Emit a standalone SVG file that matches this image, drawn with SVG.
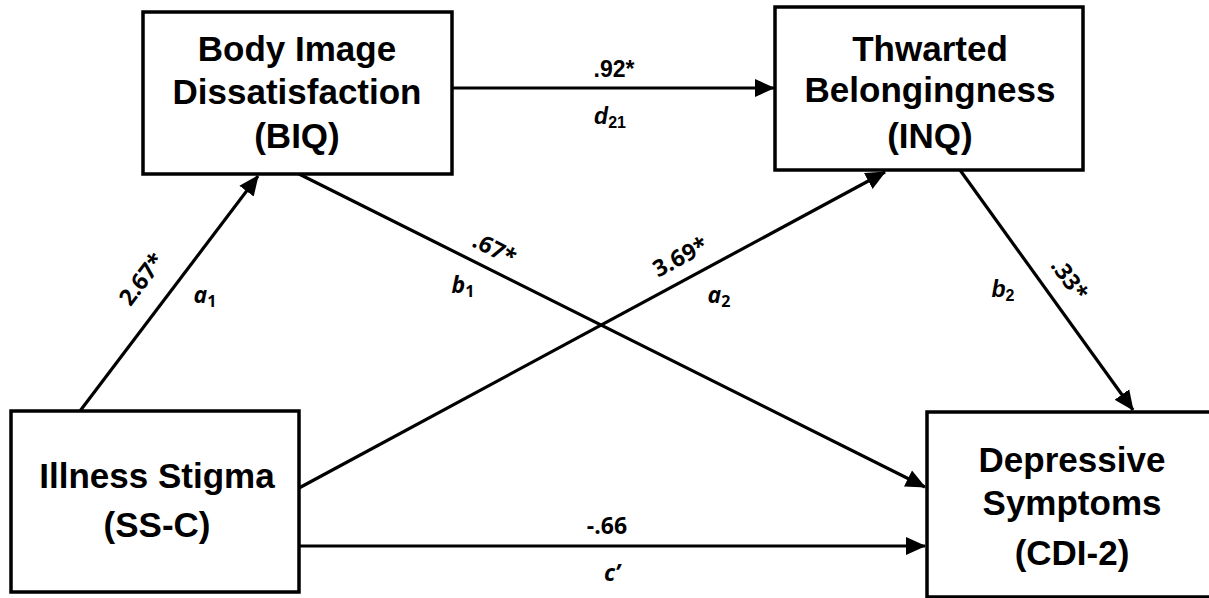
<svg xmlns="http://www.w3.org/2000/svg" width="1209" height="598" viewBox="0 0 1209 598">
<defs>
<style>
.box{fill:#fff;stroke:#000;stroke-width:3.5}
.nt{font-family:"Liberation Sans",Arial,sans-serif;font-weight:bold;font-size:35px;text-anchor:middle;fill:#000}
.lbl{font-family:"Open Sans","Liberation Sans",sans-serif;font-weight:bold;font-size:23px;text-anchor:middle;fill:#000}
.lbla{font-family:"Liberation Sans",Arial,sans-serif;font-weight:bold;font-size:23px;text-anchor:middle;fill:#000}
.it{font-style:italic}
.sub{font-size:16px;font-style:normal}
.edge{stroke:#000;stroke-width:3.2;fill:none;marker-end:url(#ah)}
</style>
<marker id="ah" markerUnits="userSpaceOnUse" markerWidth="20" markerHeight="20" viewBox="0 0 20 20" refX="19" refY="10" orient="auto">
<path d="M0,1 L20,10 L0,19 z" fill="#000"/>
</marker>
</defs>
<rect width="1209" height="598" fill="#fff"/>
<g id="connectors">
<line class="edge" x1="452" y1="88" x2="774" y2="88"/>
<line class="edge" x1="80" y1="411" x2="258" y2="176"/>
<line class="edge" x1="299" y1="174" x2="925" y2="487"/>
<line class="edge" x1="299" y1="488" x2="885" y2="172"/>
<line class="edge" x1="960" y1="170" x2="1133" y2="410"/>
<line class="edge" x1="299" y1="546" x2="925" y2="546"/>
</g>
<g id="labels">
<text class="lbla" x="614" y="77">.92*</text>
<text class="lbla it" x="610" y="124">d<tspan class="sub" dy="4">21</tspan></text>
<text class="lbl" transform="translate(148,284) rotate(-53)">2.67*</text>
<text class="lbl it" x="205" y="303">a<tspan class="sub" dy="4">1</tspan></text>
<text class="lbl" transform="translate(491,256) rotate(26.6)">.67*</text>
<text class="lbl it" x="463" y="293">b<tspan class="sub" dy="4">1</tspan></text>
<text class="lbl" transform="translate(684,264) rotate(-28.3)">3.69*</text>
<text class="lbl it" x="719" y="303">a<tspan class="sub" dy="4">2</tspan></text>
<text class="lbl" transform="translate(1063,284) rotate(54.3)">.33*</text>
<text class="lbla it" x="1003" y="297">b<tspan class="sub" dy="4">2</tspan></text>
<text class="lbl" x="607" y="534">-.66</text>
<text class="lbl it" x="612" y="581">c’</text>
</g>
<g id="biq">
<rect class="box" x="143" y="12" width="309" height="162"/>
<text class="nt" x="297" y="61">Body Image</text>
<text class="nt" x="297" y="104">Dissatisfaction</text>
<text class="nt" x="297" y="148">(BIQ)</text>
</g>
<g id="inq">
<rect class="box" x="775" y="7" width="308" height="163"/>
<text class="nt" x="930" y="61">Thwarted</text>
<text class="nt" x="930" y="102">Belongingness</text>
<text class="nt" x="930" y="148">(INQ)</text>
</g>
<g id="ssc">
<rect class="box" x="11" y="411" width="288" height="181"/>
<text class="nt" x="157" y="488">Illness Stigma</text>
<text class="nt" x="157" y="537">(SS-C)</text>
</g>
<g id="cdi">
<rect class="box" x="927" y="412" width="290" height="185"/>
<text class="nt" x="1072" y="472">Depressive</text>
<text class="nt" x="1072" y="515">Symptoms</text>
<text class="nt" x="1072" y="565">(CDI-2)</text>
</g>
</svg>
